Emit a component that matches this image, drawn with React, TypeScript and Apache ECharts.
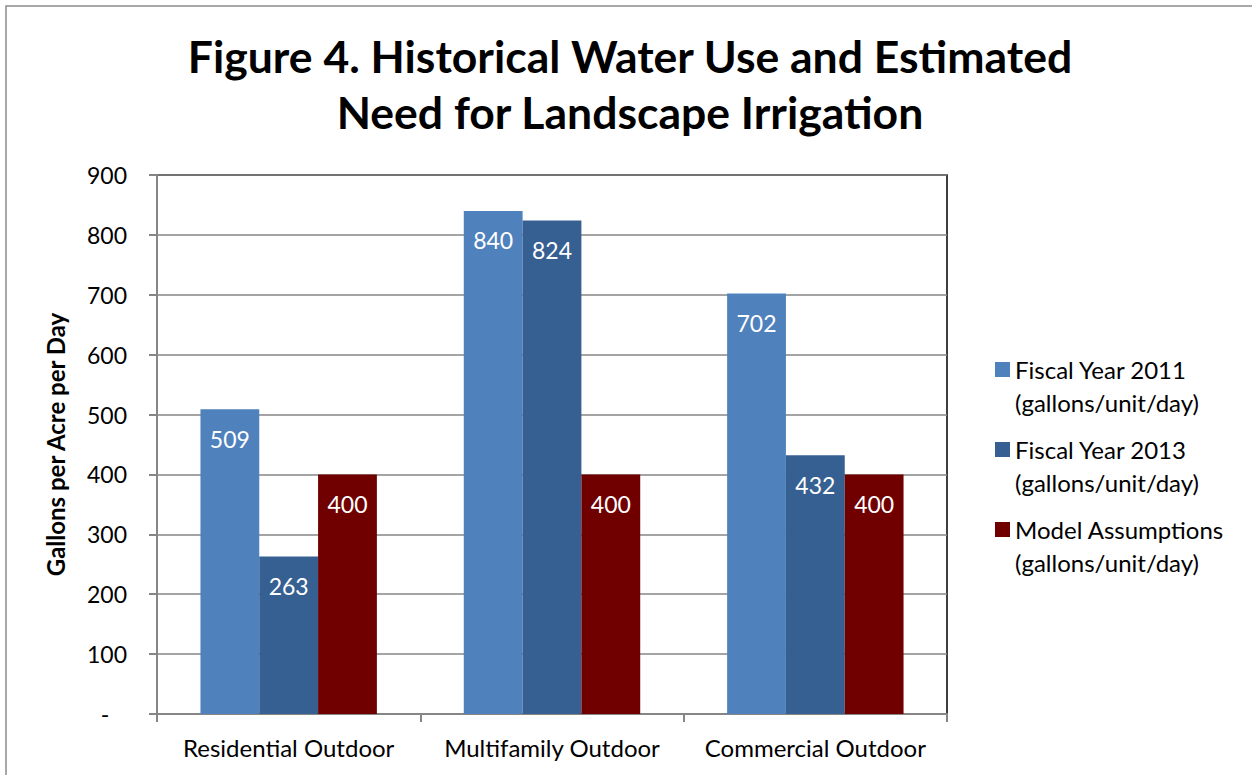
import React, { useEffect, useRef } from "react";
import * as echarts from "echarts";

const categories = ["Residential Outdoor", "Multifamily Outdoor", "Commercial Outdoor"];
const fy2011 = [509, 840, 702];
const fy2013 = [263, 824, 432];
const model = [400, 400, 400];
const seriesNames = [
  "Fiscal Year 2011\n(gallons/unit/day)",
  "Fiscal Year 2013\n(gallons/unit/day)",
  "Model Assumptions\n(gallons/unit/day)",
];
const colors = ["#4F81BD", "#376092", "#700000"];
const titleLines = "Figure 4. Historical Water Use and Estimated\nNeed for Landscape Irrigation";
const yAxisTitle = "Gallons per Acre per Day";

const FONT = "Lato, 'Open Sans', sans-serif";

export default function App() {
  const ref = useRef<HTMLDivElement>(null);
  useEffect(() => {
    if (!ref.current) return;
    const chart = echarts.init(ref.current, null, { renderer: "svg" });
    const label = {
      show: true,
      position: "insideTop" as const,
      distance: 18,
      color: "#fff",
      fontSize: 23,
      fontFamily: FONT,
    };
    const data = [fy2011, fy2013, model];
    chart.setOption({
      animation: false,
      backgroundColor: "#fff",
      textStyle: { fontFamily: FONT },
      title: {
        text: titleLines,
        left: 625,
        textAlign: "center",
        top: 22,
        textStyle: { fontSize: 44.5, fontWeight: "bold", color: "#000", lineHeight: 56, fontFamily: FONT },
      },
      graphic: [
        {
          type: "rect",
          shape: { x: 6, y: 6, width: 1300, height: 900 },
          style: { fill: "none", stroke: "#8c8c8c", lineWidth: 1.5 },
          silent: true,
        },
      ],
      legend: {
        orient: "vertical",
        left: 990,
        top: 348,
        itemWidth: 15,
        itemHeight: 48,
        itemGap: 14,
        icon: "path://M0,0L15,0L15,15L0,15Z M0,48L15,48",
        textStyle: {
          fontSize: 24,
          color: "#000",
          lineHeight: 33,
          fontFamily: FONT,
        },
        data: seriesNames,
      },
      grid: {
        left: 157,
        right: 305,
        top: 175,
        bottom: 61,
        show: true,
        borderColor: "#000",
        borderWidth: 1.5,
      },
      xAxis: {
        type: "category",
        data: categories,
        axisLine: { lineStyle: { color: "#868686", width: 2 } },
        axisTick: { show: true, interval: 0, length: 8, lineStyle: { color: "#868686", width: 2 } },
        axisLabel: { color: "#000", fontSize: 24, margin: 21, interval: 0, fontFamily: FONT },
      },
      yAxis: {
        type: "value",
        min: 0,
        max: 900,
        interval: 100,
        name: yAxisTitle,
        nameLocation: "middle",
        nameGap: 90,
        nameTextStyle: { fontSize: 24, fontWeight: "bold", color: "#000", fontFamily: FONT },
        axisLine: { show: true, lineStyle: { color: "#868686", width: 2 } },
        axisTick: { show: true, length: 8, lineStyle: { color: "#868686", width: 2 } },
        axisLabel: {
          color: "#000",
          fontSize: 23,
          margin: 30,
          fontFamily: FONT,
          formatter: (v: number) => (v === 0 ? "-   " : String(v)),
        },
        splitLine: { lineStyle: { color: "#868686", width: 1.5 } },
      },
      series: seriesNames.map((name, i) => ({
        name,
        type: "bar",
        data: data[i],
        barGap: "0%",
        barCategoryGap: "33%",
        itemStyle: { color: colors[i] },
        label,
      })),
    });
    return () => chart.dispose();
  }, []);
  return (
    <div
      ref={ref}
      style={{ position: "fixed", left: 0, top: 0, width: 1252, height: 775 }}
    />
  );
}
